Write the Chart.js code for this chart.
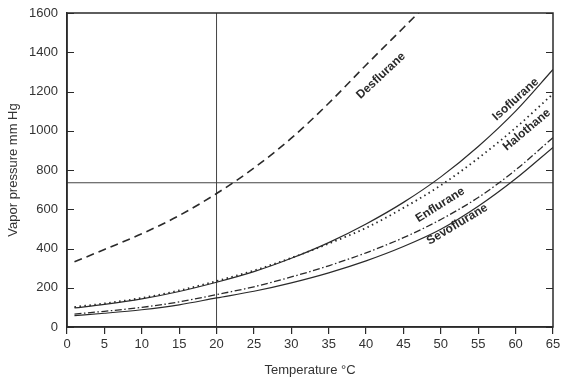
<!DOCTYPE html>
<html>
<head>
<meta charset="utf-8">
<script src="https://cdn.jsdelivr.net/npm/chart.js@4"></script>
<style>
  html, body { margin: 0; padding: 0; background: #fff; }
  #wrap { width: 569px; height: 382px; }
</style>
</head>
<body>
<div id="wrap"><canvas id="myChart" width="569" height="382"></canvas></div>
<script>
// temperatures (°C) at which the curves were read
var temps = [1, 5, 10, 15, 20, 25, 30, 35, 40, 45, 50, 55, 60, 65];
var desTemps = [1, 5, 10, 15, 20, 25, 30, 35, 40, 45, 50];

// vapor pressure, mm Hg
var desflurane = [332, 395, 475, 568, 680, 810, 962, 1140, 1335, 1525, 1715];
var isoflurane = [97, 115, 143, 181, 228, 282, 350, 430, 525, 635, 765, 920, 1100, 1312];
var halothane = [102, 120, 148, 186, 234, 288, 352, 425, 505, 607, 722, 860, 1015, 1188];
var enflurane = [66, 80, 100, 128, 165, 205, 255, 312, 378, 455, 548, 660, 800, 965];
var sevoflurane = [58, 70, 88, 113, 148, 182, 225, 276, 337, 410, 498, 615, 755, 915];

// reference lines
var refTemp = 20;
var refPressure = 735;

var xTicks = [0, 5, 10, 15, 20, 25, 30, 35, 40, 45, 50, 55, 60, 65];
var yTicks = [0, 200, 400, 600, 800, 1000, 1200, 1400, 1600];

function pts(xs, ys) {
	return ys.map(function (y, i) { return { x: xs[i], y: y }; });
}

var ink = '#2a2a2a';

// curve names, placed in data units
var curveLabels = [
	{ text: 'Desflurane', x: 42, y: 1280, angle: -43 },
	{ text: 'Isoflurane', x: 60, y: 1160, angle: -42 },
	{ text: 'Halothane', x: 61.5, y: 1005, angle: -40 },
	{ text: 'Enflurane', x: 49.9, y: 622, angle: -32 },
	{ text: 'Sevoflurane', x: 52.2, y: 523, angle: -31 }
];

var framePlugin = {
	id: 'frame',
	afterDatasetsDraw: function (chart) {
		var c = chart.ctx, a = chart.chartArea;
		var xs = chart.scales.x, ys = chart.scales.y;
		c.save();
		c.strokeStyle = ink;
		c.lineWidth = 1.5;
		c.strokeRect(a.left, a.top, a.right - a.left, a.bottom - a.top);
		// inward y ticks on both sides
		c.lineWidth = 1.2;
		yTicks.forEach(function (v) {
			var py = Math.round(ys.getPixelForValue(v)) + 0.5;
			c.beginPath();
			c.moveTo(a.left, py); c.lineTo(a.left + 7, py);
			c.moveTo(a.right, py); c.lineTo(a.right - 7, py);
			c.stroke();
		});
		// curve names
		c.fillStyle = ink;
		c.font = 'bold 12px "Liberation Sans", Arial, sans-serif';
		c.textAlign = 'center';
		c.textBaseline = 'middle';
		curveLabels.forEach(function (l) {
			c.save();
			c.translate(xs.getPixelForValue(l.x), ys.getPixelForValue(l.y));
			c.rotate(l.angle * Math.PI / 180);
			c.fillText(l.text, 0, 0);
			c.restore();
		});
		c.restore();
	}
};

var ctx = document.getElementById('myChart').getContext('2d');

var chart = new Chart(ctx, {
	type: 'line',
	data: {
		datasets: [
			{ label: 'Desflurane', data: pts(desTemps, desflurane), borderColor: ink, borderWidth: 1.6, borderDash: [8, 5] },
			{ label: 'Isoflurane', data: pts(temps, isoflurane), borderColor: ink, borderWidth: 1.2 },
			{ label: 'Halothane', data: pts(temps, halothane), borderColor: ink, borderWidth: 1.8, borderDash: [1.5, 3.5] },
			{ label: 'Enflurane', data: pts(temps, enflurane), borderColor: ink, borderWidth: 1.3, borderDash: [7, 2.5, 1.5, 2.5] },
			{ label: 'Sevoflurane', data: pts(temps, sevoflurane), borderColor: ink, borderWidth: 1.2 },
			{ label: 'ref T', data: [{ x: refTemp, y: 0 }, { x: refTemp, y: 1600 }], borderColor: '#444', borderWidth: 1, cubicInterpolationMode: 'default', tension: 0 },
			{ label: 'ref P', data: [{ x: 0, y: refPressure }, { x: 65, y: refPressure }], borderColor: '#444', borderWidth: 1.2, cubicInterpolationMode: 'default', tension: 0 }
		]
	},
	options: {
		responsive: false,
		animation: false,
		layout: { padding: { top: 13, right: 16, left: 0, bottom: 0 } },
		elements: {
			point: { radius: 0 },
			line: { cubicInterpolationMode: 'monotone', fill: false }
		},
		plugins: {
			legend: { display: false },
			tooltip: { enabled: false }
		},
		scales: {
			x: {
				type: 'linear',
				min: 0,
				max: 65,
				afterFit: function (s) { s.height = 55; s.paddingLeft = 0; s.paddingRight = 0; },
				afterBuildTicks: function (s) { s.ticks = xTicks.map(function (v) { return { value: v }; }); },
				grid: { drawOnChartArea: false, drawTicks: true, tickLength: 7, color: ink, lineWidth: 1.2 },
				border: { color: ink, width: 1.5 },
				ticks: { autoSkip: false, maxRotation: 0, padding: 3, color: '#333', font: { family: '"Liberation Sans", Arial, sans-serif', size: 13 } },
				title: { display: true, text: 'Temperature °C', color: '#333', padding: { top: 4, bottom: 4 }, font: { family: '"Liberation Sans", Arial, sans-serif', size: 13 } }
			},
			y: {
				min: 0,
				max: 1600,
				afterFit: function (s) { s.width = 67; s.paddingTop = 0; s.paddingBottom = 0; },
				afterBuildTicks: function (s) { s.ticks = yTicks.map(function (v) { return { value: v }; }); },
				grid: { drawOnChartArea: false, drawTicks: false },
				border: { color: ink, width: 1.5 },
				ticks: {
					padding: 9, color: '#333', font: { family: '"Liberation Sans", Arial, sans-serif', size: 13 },
					callback: function (v) { return String(v); }
				},
				title: { display: true, text: 'Vapor pressure mm Hg', color: '#333', padding: { top: 6, bottom: 0 }, font: { family: '"Liberation Sans", Arial, sans-serif', size: 13 } }
			}
		}
	},
	plugins: [framePlugin]
});
</script>
</body>
</html>
